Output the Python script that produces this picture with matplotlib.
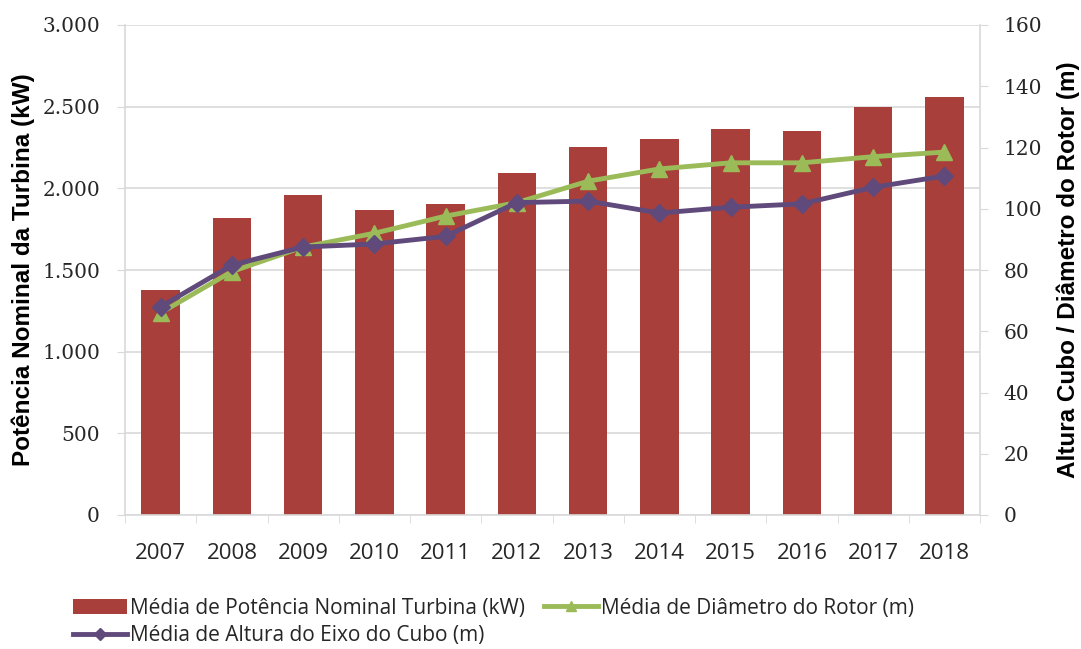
import matplotlib
matplotlib.use("Agg")
import matplotlib.pyplot as plt
import numpy as np
from matplotlib.patches import Patch
from matplotlib.lines import Line2D

years = ["2007", "2008", "2009", "2010", "2011", "2012", "2013", "2014", "2015", "2016", "2017", "2018"]
potencia_kw = [1378, 1818, 1960, 1868, 1905, 2094, 2253, 2302, 2364, 2351, 2498, 2560]
diametro_m = [66, 79.5, 87.5, 92, 97.6, 102, 109, 113, 115, 115, 117, 118.5]
altura_m = [68, 81.6, 87.5, 88.5, 91, 102, 102.5, 98.6, 100.5, 101.6, 107, 110.7]

left_ticks = [0, 500, 1000, 1500, 2000, 2500, 3000]
left_ticklabels = ["0", "500", "1.000", "1.500", "2.000", "2.500", "3.000"]
right_ticks = [0, 20, 40, 60, 80, 100, 120, 140, 160]

bar_color = "#A93F3B"
green = "#9BBB59"
purple = "#604A7B"
grid_color = "#D9D9D9"
text_color = "#262626"

fig = plt.figure(figsize=(10.81, 6.49), dpi=100)
ax = fig.add_axes([125/1081, 1-515/649, (980-125)/1081, (515-25)/649])
x = np.arange(len(years))
ax.bar(x, potencia_kw, width=0.54, color=bar_color, zorder=2)
ax.set_xlim(-0.5, len(years)-0.5)
ax.set_ylim(0, 3000)
ax.set_yticks(left_ticks)
ax.set_yticklabels(left_ticklabels, fontfamily="DejaVu Serif", fontsize=14.5, color=text_color)
ax.set_xticks(x)
ax.set_xticklabels(years, fontfamily="Open Sans", fontsize=16, color=text_color)
ax.tick_params(axis="x", length=0, pad=20)
ax.tick_params(axis="y", length=6, color=grid_color, pad=12)
ax.grid(axis="y", color=grid_color, linewidth=1.2, zorder=0)
for s in ["top", "right"]:
    ax.spines[s].set_visible(False)
ax.spines["left"].set_color(grid_color)
ax.spines["bottom"].set_color(grid_color)
ax.spines["left"].set_linewidth(1.2)
ax.spines["bottom"].set_linewidth(1.2)
ax.set_xticks(np.arange(-0.5, len(years), 1.0), minor=True)
ax.tick_params(axis="x", which="minor", length=6, color=grid_color)
ax.set_ylabel("Potência Nominal da Turbina (kW)", fontfamily="Liberation Sans", fontweight="bold",
              fontsize=17.5, color="black", labelpad=5)

ax2 = ax.twinx()
ax2.plot(x, diametro_m, color=green, linewidth=3.5, marker="^", markersize=12, zorder=3)
ax2.plot(x, altura_m, color=purple, linewidth=3.5, marker="D", markersize=9.5, zorder=4)
ax2.set_ylim(0, 160)
ax2.set_yticks(right_ticks)
ax2.set_yticklabels([str(t) for t in right_ticks], fontfamily="DejaVu Serif", fontsize=14.5, color=text_color)
ax2.tick_params(axis="y", length=6, color=grid_color, pad=11)
for s in ["top", "left", "bottom"]:
    ax2.spines[s].set_visible(False)
ax2.spines["right"].set_color(grid_color)
ax2.spines["right"].set_linewidth(1.2)
ax2.set_ylabel("Altura Cubo / Diâmetro do Rotor (m)", fontfamily="Liberation Sans", fontweight="bold",
               fontsize=17.5, color="black", labelpad=10)

handles = [
    Patch(facecolor=bar_color, label="Média de Potência Nominal Turbina (kW)"),
    Line2D([0], [0], color=purple, linewidth=3.5, marker="D", markersize=6, label="Média de Altura do Eixo do Cubo (m)"),
    Line2D([0], [0], color=green, linewidth=3.5, marker="^", markersize=7, label="Média de Diâmetro do Rotor (m)"),
]
fig.legend(handles=handles, ncol=2, loc="upper left", bbox_to_anchor=(54/1081, 1-579/649),
           frameon=False, prop={"family": "Open Sans", "size": 15}, handlelength=2.6, handleheight=0.7,
           handletextpad=0.15, columnspacing=0.9, labelspacing=0.3, labelcolor=text_color)

fig.savefig("out.png", dpi=100)
